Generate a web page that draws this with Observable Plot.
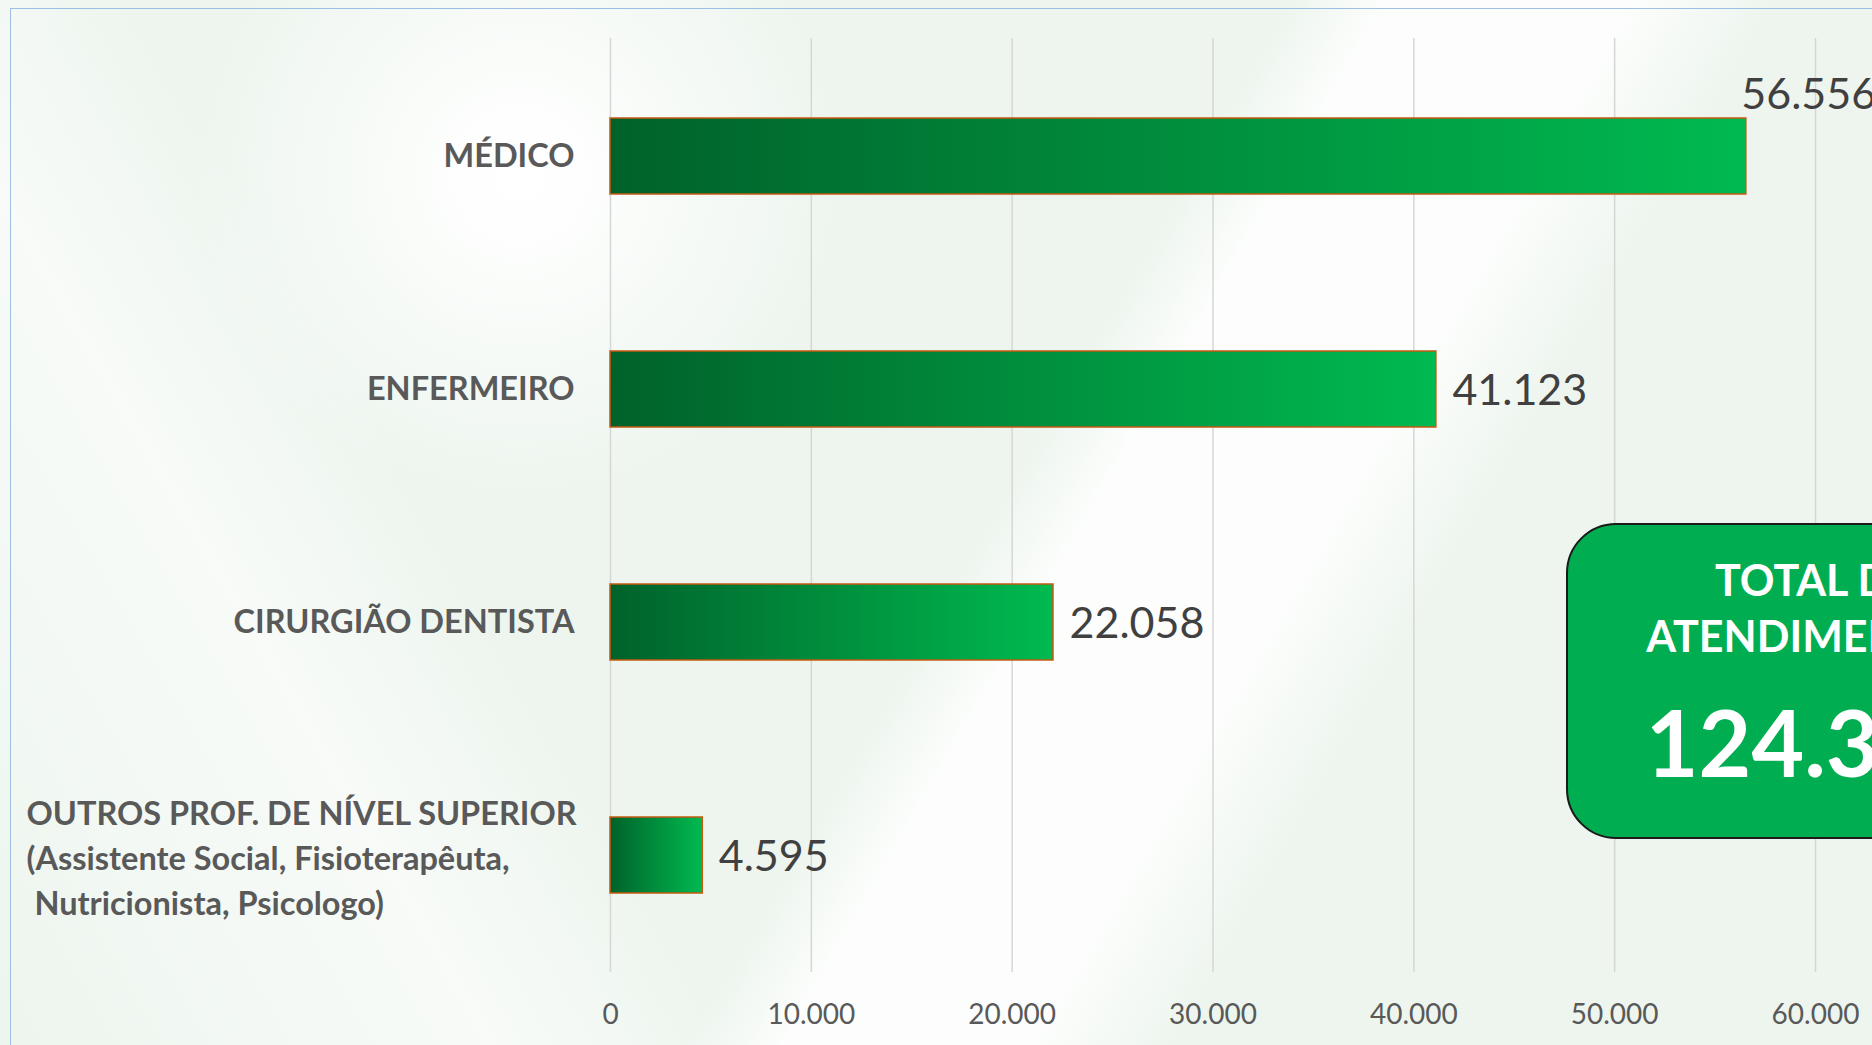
<!DOCTYPE html>
<html>
<head>
<meta charset="utf-8">
<script src="https://cdn.jsdelivr.net/npm/d3@7"></script>
<script src="https://cdn.jsdelivr.net/npm/@observablehq/plot@0.6"></script>
<style>
html,body{margin:0;padding:0;width:1872px;height:1045px;overflow:hidden;}
body{position:relative;background:#edf5ee;font-family:Lato,"Noto Sans",sans-serif;}
#bg{position:absolute;inset:0;
  background:
    radial-gradient(circle at 520px 175px, rgba(255,255,255,1) 0px, rgba(255,255,255,0.9) 60px, rgba(255,255,255,0) 330px),
    linear-gradient(120deg, rgba(255,255,255,0) 0%, rgba(255,255,255,0) 52%, rgba(255,255,255,0.85) 56%, rgba(255,255,255,0.85) 66%, rgba(255,255,255,0) 72%),
    linear-gradient(60deg, rgba(255,255,255,0) 0%, rgba(255,255,255,0.6) 20%, rgba(255,255,255,0) 30%, rgba(255,255,255,0) 100%);
}
#frame{position:absolute;left:10px;top:8px;right:-20px;bottom:-20px;border-top:1.5px solid #9dbfe4;border-left:1.5px solid #9dbfe4;}
#chart{position:absolute;left:0;top:0;width:2100px;}
#chart svg{max-width:none !important;}
#total{position:absolute;left:1566px;top:523px;width:498px;height:316px;box-sizing:border-box;
  background:#00ae51;border:2.5px solid #1a1a1a;border-radius:50px;color:#fff;font-weight:700;text-align:center;
  font-family:Lato,sans-serif;}
#total .l{font-size:43px;line-height:56px;}
#total .v{font-size:91px;line-height:100px;margin-top:28px;}
</style>
</head>
<body>
<div id="bg"></div>
<div id="frame"></div>
<div id="chart"></div>
<div id="total"><div style="height:27px"></div><div class="l" id="t1"></div><div class="l" id="t2"></div><div class="v" id="tv"></div></div>
<script>
// ---- data ----
const categories = [
  "MÉDICO",
  "ENFERMEIRO",
  "CIRURGIÃO DENTISTA",
  "OUTROS PROF. DE NÍVEL SUPERIOR\n(Assistente Social, Fisioterapêuta,\n\u00A0Nutricionista, Psicologo)"
];
const values = [56556, 41123, 22058, 4595];
const xTicks = [0, 10000, 20000, 30000, 40000, 50000, 60000];
const totalTitle = ["TOTAL DE", "ATENDIMENTOS"];

// ---- build ----
const data = categories.map((c, i) => ({cat: c, value: values[i]}));
const fmt = d3.formatLocale({decimal: ",", thousands: ".", grouping: [3], currency: ["R$", ""]}).format(",d");
const W = 2100, H = 1045;
const xMax = 60000;
const isMulti = d => d.cat.includes("\n");
const fitsInside = d => d.value < 0.9 * xMax;

const chart = Plot.plot({
  width: W, height: H,
  marginLeft: 610, marginRight: W - 1815, marginTop: 38, marginBottom: 73,
  style: {background: "transparent", overflow: "visible", fontFamily: "Lato, sans-serif", maxWidth: "none"},
  x: {domain: [0, xMax], axis: null},
  y: {domain: categories, paddingInner: 0.674, paddingOuter: 0.337, axis: null},
  marks: [
    Plot.gridX(xTicks, {stroke: "#d6d6d6", strokeOpacity: 1, strokeWidth: 1.5}),
    Plot.axisX(xTicks, {tickSize: 0, tickPadding: 32, tickFormat: fmt, fontSize: 28, fill: "#595959", label: null}),
    Plot.barX(data, {x: "value", y: "cat", fill: "url(#barGrad)", stroke: "#c55a11", strokeWidth: 1.5}),
    Plot.text(data.filter(d => !isMulti(d)), {x: 0, y: "cat", text: "cat", textAnchor: "end", dx: -36,
      fontSize: 32.5, fontWeight: 700, fill: "#595959"}),
    Plot.text(data.filter(isMulti), {x: 0, y: "cat", text: "cat", textAnchor: "start", dx: -584,
      fontSize: 32.5, fontWeight: 700, fill: "#595959", lineHeight: 1.38}),
    Plot.text(data.filter(fitsInside), {x: "value", y: "cat", text: d => fmt(d.value), textAnchor: "start", dx: 16, dy: 2,
      fontSize: 43, fill: "#404040"}),
    Plot.text(data.filter(d => !fitsInside(d)), {x: "value", y: "cat", text: d => fmt(d.value), textAnchor: "start", dx: -5, dy: -61,
      fontSize: 43, fill: "#404040"})
  ]
});

const svg = d3.select(chart);
const defs = svg.insert("defs", ":first-child");
const grad = defs.append("linearGradient").attr("id", "barGrad")
  .attr("x1", "0").attr("x2", "1").attr("y1", "0").attr("y2", "0");
grad.append("stop").attr("offset", "0%").attr("stop-color", "#00622a");
grad.append("stop").attr("offset", "100%").attr("stop-color", "#00ba50");

document.getElementById("chart").appendChild(chart);
document.getElementById("t1").textContent = totalTitle[0];
document.getElementById("t2").textContent = totalTitle[1];
document.getElementById("tv").textContent = fmt(d3.sum(values));
</script>
</body>
</html>
